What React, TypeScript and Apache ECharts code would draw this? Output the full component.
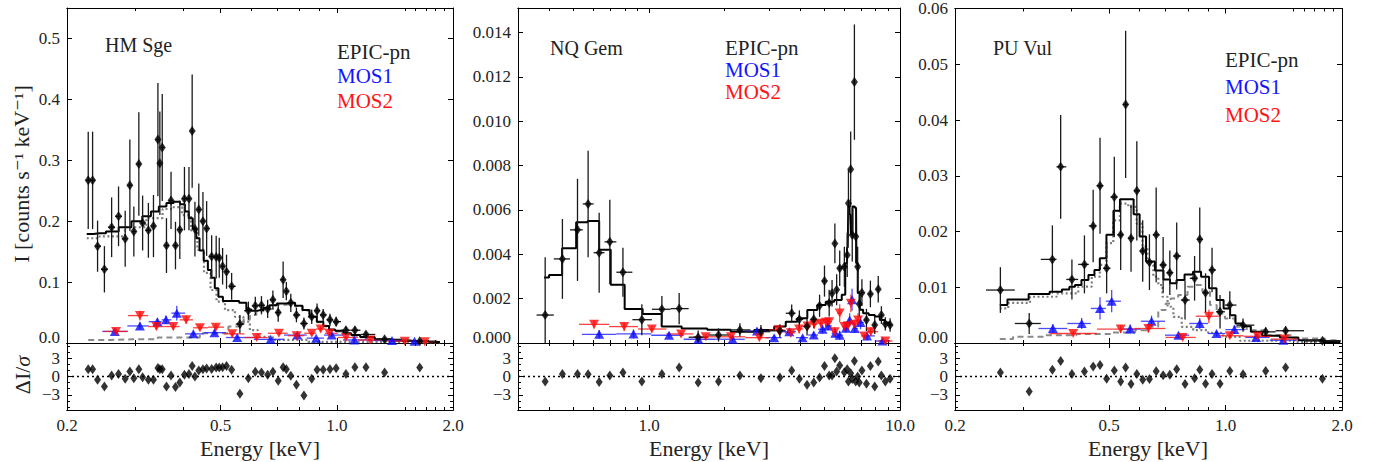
import React, { useEffect, useRef } from "react";
import * as echarts from "echarts";

const FONT = '"Liberation Serif", "DejaVu Serif", serif';

// ---------------- HM Sge ----------------
const hmPnE = [0.227,0.233,0.240,0.250,0.261,0.272,0.283,0.291,0.298,0.307,0.314,0.325,0.335,0.344,0.348,0.353,0.362,0.372,0.382,0.392,0.403,0.414,0.422,0.429,0.439,0.450,0.460,0.474,0.487,0.496,0.506,0.518,0.534,0.561,0.590,0.615,0.638,0.662,0.683,0.705,0.726,0.740,0.760,0.786,0.822,0.861,0.889,0.922,0.960,0.996,1.056,1.114,1.19,1.33,1.64];
const hmPnI = [0.267,0.267,0.159,0.121,0.190,0.208,0.171,0.259,0.183,0.294,0.197,0.185,0.192,0.334,0.295,0.321,0.160,0.234,0.160,0.186,0.237,0.237,0.348,0.187,0.219,0.200,0.188,0.142,0.141,0.140,0.126,0.117,0.093,0.031,0.053,0.061,0.062,0.056,0.071,0.050,0.104,0.085,0.066,0.046,0.032,0.043,0.053,0.046,0.038,0.035,0.021,0.021,0.014,0.006,0.003];
const hmPnErr = [0.08,0.08,0.042,0.038,0.049,0.049,0.046,0.075,0.041,0.085,0.045,0.045,0.051,0.093,0.085,0.088,0.045,0.047,0.039,0.048,0.052,0.052,0.093,0.045,0.043,0.048,0.045,0.035,0.035,0.033,0.03,0.028,0.022,0.015,0.015,0.015,0.015,0.015,0.015,0.015,0.03,0.015,0.015,0.012,0.01,0.012,0.012,0.01,0.01,0.008,0.006,0.006,0.005,0.004,0.003];
const hmRes = [1.2,1.2,-0.54,-1.63,0.16,0.43,-0.38,0.82,-0.27,1.2,-0.11,-0.54,-0.54,1.41,1.2,1.2,-1.63,0.16,-1.74,-0.98,0.27,0.43,1.74,0,0.98,1.2,1.3,1.25,1.47,1.47,1.52,1.74,1.09,-2.83,-0.27,0.76,0.65,0.27,0.76,-0.71,1.52,1.2,0.11,-1.36,-3.1,-0.38,1.09,1.09,1.2,1.36,0.43,1.52,1.52,0.65,1.47];
const hmMos1E = [0.266,0.309,0.343,0.361,0.385,0.425,0.482,0.552,0.674,0.79,0.884,0.97,1.11,1.39,1.59];
const hmMos1I = [0.019,0.028,0.035,0.038,0.049,0.015,0.017,0.009,0.006,0.013,0.008,0.013,0.005,0.004,0.003];
const hmMos1Err = [0.004,0.006,0.006,0.007,0.012,0.004,0.004,0.003,0.002,0.003,0.002,0.003,0.002,0.001,0.001];
const hmMos2E = [0.268,0.309,0.341,0.377,0.407,0.442,0.486,0.536,0.620,0.708,0.787,0.861,0.908,0.956,1.056,1.22,1.50,1.69];
const hmMos2I = [0.019,0.045,0.027,0.027,0.038,0.025,0.026,0.015,0.009,0.016,0.012,0.016,0.023,0.016,0.009,0.005,0.003,0.002];
const hmMos2Err = [0.004,0.008,0.006,0.006,0.007,0.005,0.005,0.004,0.003,0.003,0.003,0.003,0.004,0.003,0.002,0.001,0.001,0.001];
const hmModelE = [0.225,0.243,0.262,0.283,0.305,0.322,0.338,0.354,0.370,0.386,0.399,0.409,0.418,0.429,0.436,0.446,0.458,0.469,0.477,0.489,0.498,0.516,0.540,0.578,0.588,0.614,0.633,0.66,0.68,0.72,0.76,0.80,0.83,0.87,0.906,0.94,0.97,1.01,1.07,1.11,1.19,1.32,1.46,1.62,1.85];
const hmModelI = [0.179,0.180,0.183,0.190,0.200,0.208,0.216,0.224,0.230,0.232,0.228,0.216,0.205,0.188,0.172,0.152,0.135,0.120,0.107,0.090,0.076,0.069,0.069,0.066,0.055,0.053,0.054,0.058,0.062,0.065,0.066,0.061,0.054,0.043,0.035,0.028,0.022,0.020,0.016,0.013,0.010,0.006,0.004,0.003,0.0017];
const hmSoftE = [0.225,0.262,0.305,0.338,0.370,0.386,0.409,0.429,0.442,0.464,0.478,0.498,0.529,0.561,0.585,0.606,0.643,0.725,0.98,1.85];
const hmSoftI = [0.172,0.175,0.190,0.205,0.220,0.223,0.210,0.185,0.153,0.115,0.087,0.068,0.054,0.043,0.035,0.021,0.010,0.005,0.002,0.001];
const hmHardE = [0.227,0.296,0.399,0.489,0.561,0.585,0.606,0.632,0.66,0.725,0.76,0.80,0.83,0.87,0.906,0.94,0.97,1.01,1.07,1.11,1.19,1.32,1.46,1.62,1.85];
const hmHardI = [0.005,0.006,0.009,0.016,0.027,0.038,0.046,0.052,0.056,0.063,0.064,0.060,0.053,0.043,0.034,0.027,0.021,0.019,0.015,0.012,0.0095,0.0058,0.0039,0.0029,0.0016];

// ---------------- NQ Gem ----------------
const nqPnE = [0.385,0.451,0.518,0.571,0.632,0.697,0.786,0.935,1.124,1.317,1.568,1.89,2.30,2.79,3.32,3.70,3.97,4.26,4.53,4.78,5.00,5.22,5.36,5.50,5.59,5.75,6.00,6.16,6.23,6.36,6.45,6.58,6.66,6.78,6.88,7.05,7.35,7.62,7.93,8.19,8.43,8.74,9.13];
const nqPnI = [0.00126,0.00379,0.0051,0.00627,0.00407,0.00456,0.00319,0.00105,0.00152,0.00155,0.00026,0.00036,0.00059,0.00051,0.00055,0.00134,0.00107,0.00074,0.00107,0.00168,0.00279,0.0018,0.00224,0.00449,0.0024,0.00337,0.00344,0.00397,0.0063,0.00783,0.00487,0.01176,0.0048,0.00344,0.00176,0.00227,0.00104,0.00221,0.00081,0.00242,0.00126,0.00086,0.00081];
const nqPnErr = [0.0026,0.0018,0.0023,0.0024,0.0018,0.0019,0.0011,0.0007,0.0006,0.0007,0.0003,0.0003,0.0003,0.0003,0.0003,0.0004,0.0004,0.0004,0.0004,0.0005,0.0007,0.0006,0.0006,0.0009,0.0007,0.0008,0.0009,0.0010,0.0015,0.0017,0.0012,0.0026,0.0012,0.0009,0.0006,0.0006,0.0005,0.0006,0.0004,0.0006,0.0004,0.0003,0.0003];
const nqRes = [-0.82,0.43,0.43,0.38,-0.92,0.16,0.65,-0.82,0.43,1.47,-0.98,-0.82,0.16,-0.27,-0.16,0.98,-0.38,-1.36,-0.98,-0.16,1.74,0.16,0.16,2.99,0.82,1.79,0.71,1.2,-0.82,0.54,-0.43,2.55,-0.82,0,-0.98,0.98,-1.2,1.74,-1.63,2.45,0.16,-0.82,-0.38];
const nqMos1E = [0.632,0.866,1.20,1.57,2.15,2.69,3.15,3.62,4.09,4.53,4.91,5.17,5.52,5.75,6.09,6.30,6.44,6.6,6.96,7.39,8.52];
const nqMos1I = [0.00039,0.00041,0.00035,0.00017,0.00017,0.00054,0.00024,0.00051,0.00024,0.00036,0.00062,0.00077,0.00044,0.00035,0.00066,0.00104,0.00195,0.00065,0.00092,0.00032,0.00009];
const nqMos1Err = [0.0002,0.0002,0.00015,0.0001,0.0001,0.00015,0.0001,0.00015,0.0001,0.00015,0.0002,0.0002,0.0002,0.0002,0.0002,0.0003,0.0005,0.0002,0.0003,0.0002,0.0001];
const nqMos2E = [0.603,0.795,1.025,1.34,1.68,2.12,2.75,3.28,3.67,3.96,4.28,4.55,4.84,5.07,5.22,5.49,5.75,6.0,6.2,6.37,6.58,6.8,7.2,7.65,8.74];
const nqMos2I = [0.00084,0.00074,0.00063,0.00041,0.00028,0.00028,0.00024,0.00059,0.00046,0.00063,0.00077,0.00085,0.00089,0.00094,0.00096,0.00051,0.00135,0.00074,0.00078,0.00179,0.00085,0.00104,0.00032,0.00051,0.00009];
const nqMos2Err = [0.0002,0.0002,0.00015,0.00012,0.0001,0.0001,0.0001,0.0002,0.0002,0.0002,0.0002,0.0002,0.0002,0.0002,0.0002,0.0002,0.0004,0.0002,0.0002,0.0004,0.0002,0.0003,0.0001,0.0002,0.00005];
const nqModelE = [0.381,0.418,0.484,0.541,0.598,0.668,0.739,0.863,1.028,1.224,1.484,1.955,2.286,3.01,3.30,3.72,4.08,4.47,4.90,5.22,5.73,5.99,6.11,6.19,6.25,6.34,6.41,6.53,6.68,6.73,6.84,6.99,7.27,7.75,8.12,8.50,8.90,9.23];
const nqModelI = [0.00295,0.00307,0.00427,0.00544,0.0055,0.0042,0.00262,0.00153,0.00131,0.00074,0.00065,0.0006,0.00051,0.00059,0.00074,0.00096,0.00111,0.00149,0.00171,0.00186,0.00194,0.00217,0.0036,0.0043,0.00615,0.0058,0.0049,0.00615,0.0061,0.0036,0.00225,0.0015,0.00134,0.00126,0.00119,0.00104,0.00092,0.00081];

// ---------------- PU Vul ----------------
const puPnE = [0.262,0.311,0.357,0.375,0.401,0.432,0.455,0.474,0.493,0.516,0.536,0.552,0.570,0.590,0.611,0.636,0.662,0.690,0.718,0.748,0.786,0.832,0.858,0.888,0.923,0.968,1.026,1.11,1.27,1.43,1.78];
const puPnI = [0.0095,0.0035,0.0150,0.0316,0.0114,0.0141,0.0210,0.0282,0.0134,0.0262,0.0194,0.0428,0.0188,0.0273,0.0165,0.0145,0.0194,0.0140,0.0126,0.0156,0.0077,0.0116,0.0186,0.0090,0.0131,0.0056,0.0068,0.0032,0.0020,0.0022,0.0004];
const puPnErr = [0.0041,0.0019,0.0061,0.0093,0.0036,0.0052,0.0065,0.0086,0.0045,0.0072,0.0063,0.0132,0.0060,0.0089,0.0055,0.0050,0.0085,0.0050,0.0040,0.0060,0.0035,0.0040,0.0057,0.0035,0.0040,0.0030,0.0025,0.0012,0.0008,0.0008,0.0003];
const puRes = [0.65,-2.45,1.09,2.55,0.43,0.82,1.63,1.9,-0.38,0.98,-0.82,1.47,-1.25,0.43,-0.54,-0.43,0.87,0.22,0.27,1.2,-1.25,-0.27,1.09,-1.2,0.43,-1.2,0.92,0.38,0.92,1.47,-0.38];
const puMos1E = [0.358,0.425,0.474,0.508,0.567,0.644,0.756,0.858,0.948,1.054,1.20,1.41];
const puMos1I = [0.0026,0.0035,0.0062,0.0075,0.0025,0.0039,0.0014,0.0035,0.0017,0.0024,0.0010,0.0005];
const puMos1Err = [0.0008,0.0010,0.0020,0.0020,0.0008,0.0010,0.0005,0.0010,0.0005,0.0008,0.0004,0.0003];
const puMos2E = [0.404,0.536,0.632,0.775,0.906,1.026,1.21,1.42];
const puMos2I = [0.0017,0.0025,0.0026,0.0010,0.0048,0.0013,0.0012,0.0007];
const puMos2Err = [0.0004,0.0007,0.0007,0.0004,0.0012,0.0004,0.0004,0.0003];
const puModelE = [0.261,0.286,0.336,0.367,0.389,0.401,0.416,0.433,0.452,0.465,0.482,0.503,0.524,0.544,0.567,0.591,0.609,0.638,0.677,0.706,0.732,0.763,0.805,0.844,0.886,0.928,0.968,1.01,1.046,1.077,1.136,1.19,1.30,1.47,1.62,1.98];
const puModelI = [0.0068,0.0078,0.0088,0.0092,0.0096,0.0101,0.0104,0.0113,0.0122,0.0131,0.0152,0.0194,0.0237,0.0258,0.0258,0.0231,0.0191,0.0146,0.0130,0.0114,0.0107,0.0113,0.0123,0.0128,0.0119,0.0098,0.0077,0.0062,0.0050,0.0035,0.0030,0.0020,0.0013,0.0010,0.0005,0.0002];
const puSoftE = [0.261,0.289,0.338,0.396,0.438,0.465,0.482,0.503,0.523,0.544,0.578,0.601,0.619,0.638,0.664,0.677,0.698,0.719,0.748,0.794,0.858,0.948,1.026,1.156,1.98];
const puSoftI = [0.0062,0.0072,0.0083,0.0089,0.0101,0.0119,0.0140,0.0179,0.0220,0.0250,0.0244,0.0214,0.0173,0.0140,0.0119,0.0104,0.0083,0.0065,0.0047,0.0029,0.0023,0.0018,0.0011,0.0004,0.0002];
const puHardE = [0.261,0.306,0.373,0.455,0.556,0.613,0.651,0.690,0.711,0.732,0.778,0.818,0.85,0.894,0.93,0.968,1.026,1.09,1.18,1.356,1.65,1.98];
const puHardI = [0.0007,0.0011,0.0014,0.0016,0.0019,0.0023,0.0029,0.0059,0.0071,0.0080,0.0086,0.0101,0.0104,0.0092,0.0068,0.0053,0.0044,0.0029,0.0023,0.0014,0.0008,0.0005];

// ---------------- axes ticks ----------------
const ticksA_major = [0.2, 0.5, 1, 2];
const ticksA_minor = [0.3, 0.4, 0.6, 0.7, 0.8, 0.9, 1.5, 1.6, 1.7, 1.8, 1.9];
const ticksB_major = [1, 10];
const ticksB_minor = [0.3, 0.4, 0.5, 0.6, 0.7, 0.8, 0.9, 2, 3, 4, 5, 6, 7, 8, 9];
const hmYTicks = [0, 0.1, 0.2, 0.3, 0.4, 0.5];
const nqYTicks = [0, 0.002, 0.004, 0.006, 0.008, 0.010, 0.012, 0.014];
const puYTicks = [0, 0.01, 0.02, 0.03, 0.04, 0.05, 0.06];
const resMajor = [-3, 0, 3];
const resMinor = [-5, -4, -2, -1, 1, 2, 4, 5];

const panels = [
  { left: 67, width: 386, xmin: 0.2, xmax: 2, xMaj: ticksA_major, xMin: ticksA_minor, ymax: 0.55, yTicks: hmYTicks, yDec: 1,
    pnE: hmPnE, pnI: hmPnI, pnErr: hmPnErr, res: hmRes,
    m1E: hmMos1E, m1I: hmMos1I, m1Err: hmMos1Err, m2E: hmMos2E, m2I: hmMos2I, m2Err: hmMos2Err,
    models: [
      { E: hmHardE, I: hmHardI, kind: "dashed" },
      { E: hmSoftE, I: hmSoftI, kind: "dotted" },
      { E: hmModelE, I: hmModelI, kind: "solid" },
    ],
  },
  { left: 518, width: 382, xmin: 0.3, xmax: 10, xMaj: ticksB_major, xMin: ticksB_minor, ymax: 0.0151, yTicks: nqYTicks, yDec: 3,
    pnE: nqPnE, pnI: nqPnI, pnErr: nqPnErr, res: nqRes,
    m1E: nqMos1E, m1I: nqMos1I, m1Err: nqMos1Err, m2E: nqMos2E, m2I: nqMos2I, m2Err: nqMos2Err,
    models: [{ E: nqModelE, I: nqModelI, kind: "solid" }],
  },
  { left: 955, width: 387, xmin: 0.2, xmax: 2, xMaj: ticksA_major, xMin: ticksA_minor, ymax: 0.06, yTicks: puYTicks, yDec: 2,
    pnE: puPnE, pnI: puPnI, pnErr: puPnErr, res: puRes,
    m1E: puMos1E, m1I: puMos1I, m1Err: puMos1Err, m2E: puMos2E, m2I: puMos2I, m2Err: puMos2Err,
    models: [
      { E: puHardE, I: puHardI, kind: "dashed" },
      { E: puSoftE, I: puSoftI, kind: "dotted" },
      { E: puModelE, I: puModelI, kind: "solid" },
    ],
  },
];

const TOP = 8;
const MAIN_H = 335;
const RES_H = 67;

function binEdges(E: number[]) {
  return E.map((e, i) => {
    const lo = i > 0 ? Math.sqrt(E[i - 1] * e) : e / Math.sqrt(E[1] / E[0]);
    const hi = i < E.length - 1 ? Math.sqrt(e * E[i + 1]) : e * Math.sqrt(E[i] / E[i - 1]);
    return [lo, hi];
  });
}

function errData(E: number[], I: number[], err: number[]) {
  const ed = binEdges(E);
  return E.map((e, i) => [e, I[i], ed[i][0], ed[i][1], I[i] - err[i], I[i] + err[i]]);
}

function errSeries(xi: number, yi: number, data: number[][], color: string, width: number) {
  return {
    type: "custom",
    xAxisIndex: xi,
    yAxisIndex: yi,
    silent: true,
    z: 3,
    data,
    encode: { x: 0, y: 1 },
    renderItem: (params: any, api: any) => {
      const cs = params.coordSys;
      const x = api.value(0), y = api.value(1);
      const a = api.coord([api.value(2), y]);
      const b = api.coord([api.value(3), y]);
      const c = api.coord([x, api.value(4)]);
      const d = api.coord([x, api.value(5)]);
      const cx = (v: number) => Math.max(cs.x, Math.min(cs.x + cs.width, v));
      const cy = (v: number) => Math.max(cs.y, Math.min(cs.y + cs.height, v));
      return {
        type: "group",
        children: [
          { type: "line", shape: { x1: cx(a[0]), y1: a[1], x2: cx(b[0]), y2: b[1] }, style: { stroke: color, lineWidth: width } },
          { type: "line", shape: { x1: c[0], y1: cy(c[1]), x2: d[0], y2: cy(d[1]) }, style: { stroke: color, lineWidth: width } },
        ],
      };
    },
  };
}

function buildOption() {
  const grid: any[] = [];
  const xAxis: any[] = [];
  const yAxis: any[] = [];
  const series: any[] = [];

  const labelStyle = { fontFamily: FONT, fontSize: 17, lineHeight: 12, color: "#222", margin: 7, showMinLabel: true, showMaxLabel: true };
  const richShift = {
    up: { fontFamily: FONT, fontSize: 17, lineHeight: 12, color: "#222", padding: [0, 0, 12, 0] },
  };

  const addX = (g: number, p: any, position: string, ticks: number[], len: number, labels: boolean) => {
    xAxis.push({
      type: "log", logBase: 10, gridIndex: g, min: p.xmin, max: p.xmax, position,
      axisLine: { show: true, onZero: false, lineStyle: { color: "#000", width: 1 } },
      axisTick: { show: true, inside: true, length: len, customValues: ticks, lineStyle: { color: "#000", width: 1 } },
      axisLabel: labels
        ? { show: true, customValues: p.xMaj, formatter: (v: any) => Number(v).toFixed(1), ...labelStyle, margin: 9 }
        : { show: false },
      splitLine: { show: false },
    });
    return xAxis.length - 1;
  };
  const addY = (g: number, min: number, max: number, position: string, ticks: number[], len: number, labelVals: number[] | null, fmt: (v: number) => string, rich?: any) => {
    yAxis.push({
      type: "value", gridIndex: g, min, max, position,
      axisLine: { show: true, onZero: false, lineStyle: { color: "#000", width: 1 } },
      axisTick: { show: true, inside: true, length: len, customValues: ticks, lineStyle: { color: "#000", width: 1 } },
      axisLabel: labelVals
        ? { show: true, customValues: labelVals, formatter: (v: any) => fmt(Number(v)), ...labelStyle, ...(rich ? { rich } : {}) }
        : { show: false },
      splitLine: { show: false },
    });
    return yAxis.length - 1;
  };

  panels.forEach((p: any) => {
    const gm = grid.length;
    grid.push({ left: p.left, top: TOP, width: p.width, height: MAIN_H });
    const gr = grid.length;
    grid.push({ left: p.left, top: TOP + MAIN_H, width: p.width, height: RES_H });

    const xm = addX(gm, p, "bottom", p.xMaj, 5, false);
    addX(gm, p, "bottom", p.xMin, 3, false);
    addX(gm, p, "top", p.xMaj, 5, false);
    addX(gm, p, "top", p.xMin, 3, false);
    const ym = addY(gm, 0, p.ymax, "left", p.yTicks, 5, p.yTicks, (v) => (v === 0 ? `{up|${v.toFixed(p.yDec)}}` : v.toFixed(p.yDec)), richShift);
    addY(gm, 0, p.ymax, "right", p.yTicks, 5, null, (v) => String(v));

    const xr = addX(gr, p, "bottom", p.xMaj, 5, true);
    addX(gr, p, "bottom", p.xMin, 3, false);
    addX(gr, p, "top", p.xMaj, 5, false);
    addX(gr, p, "top", p.xMin, 3, false);
    const yr = addY(gr, -5.5, 5.5, "left", resMajor, 5, resMajor, (v) => (v < 0 ? "\u2212" + Math.abs(v) : String(v)));
    addY(gr, -5.5, 5.5, "left", resMinor, 3, null, (v) => String(v));
    addY(gr, -5.5, 5.5, "right", resMajor, 5, null, (v) => String(v));
    addY(gr, -5.5, 5.5, "right", resMinor, 3, null, (v) => String(v));

    p.models.forEach((m: any) => {
      const style =
        m.kind === "solid"
          ? { color: "#000", width: 2, type: "solid" }
          : m.kind === "dotted"
          ? { color: "#7d7d7d", width: 2.2, type: [2, 2.5] }
          : { color: "#8a8a8a", width: 2, type: [6, 4] };
      series.push({
        type: "line", xAxisIndex: xm, yAxisIndex: ym, step: "middle", symbol: "none", showSymbol: false,
        silent: true, z: m.kind === "solid" ? 2 : 1, lineStyle: style,
        data: m.E.map((e: number, i: number) => [e, m.I[i]]),
      });
    });

    series.push(errSeries(xm, ym, errData(p.m1E, p.m1I, p.m1Err), "rgba(30,30,255,0.8)", 1.3));
    series.push(errSeries(xm, ym, errData(p.m2E, p.m2I, p.m2Err), "rgba(255,20,20,0.8)", 1.3));
    series.push(errSeries(xm, ym, errData(p.pnE, p.pnI, p.pnErr), "#1a1a1a", 1.3));

    series.push({
      type: "scatter", xAxisIndex: xm, yAxisIndex: ym, symbol: "triangle", symbolSize: [10, 9], silent: true, z: 4,
      itemStyle: { color: "#0a0aff" }, data: p.m1E.map((e: number, i: number) => [e, p.m1I[i]]),
    });
    series.push({
      type: "scatter", xAxisIndex: xm, yAxisIndex: ym, symbol: "triangle", symbolRotate: 180, symbolSize: [10, 9], silent: true, z: 4,
      itemStyle: { color: "#ff0a0a" }, data: p.m2E.map((e: number, i: number) => [e, p.m2I[i]]),
    });
    series.push({
      type: "scatter", xAxisIndex: xm, yAxisIndex: ym, symbol: "diamond", symbolSize: [7, 10], silent: true, z: 5,
      itemStyle: { color: "#000" }, data: p.pnE.map((e: number, i: number) => [e, p.pnI[i]]),
    });

    series.push({
      type: "scatter", xAxisIndex: xr, yAxisIndex: yr, symbol: "diamond", symbolSize: [7, 10], silent: true, z: 5,
      itemStyle: { color: "#000" }, data: p.pnE.map((e: number, i: number) => [e, p.res[i]]),
      markLine: {
        silent: true, symbol: "none", label: { show: false },
        lineStyle: { type: [2, 3], color: "#000", width: 1.4 },
        data: [{ yAxis: 0 }],
      },
    });
  });

  const txt = (x: number, y: number, text: string, color = "#222", size = 21, align = "left") => ({
    type: "text", x, y, silent: true,
    style: { text, fill: color, font: `${size}px ${FONT}`, align, verticalAlign: "middle" },
  });

  const graphic: any[] = [
    txt(105, 45, "HM Sge", "#222", 20),
    txt(337, 52, "EPIC-pn"),
    txt(337, 76, "MOS1", "#1414ff"),
    txt(337, 101, "MOS2", "#ff1414"),
    txt(550, 48, "NQ Gem", "#222", 20),
    txt(725, 48, "EPIC-pn"),
    txt(725, 70, "MOS1", "#1414ff"),
    txt(725, 92, "MOS2", "#ff1414"),
    txt(993, 48, "PU Vul", "#222", 20),
    txt(1225, 60, "EPIC-pn"),
    txt(1225, 87, "MOS1", "#1414ff"),
    txt(1225, 115, "MOS2", "#ff1414"),
    txt(260, 448, "Energy [keV]", "#222", 22, "center"),
    txt(709, 448, "Energy [keV]", "#222", 22, "center"),
    txt(1148, 448, "Energy [keV]", "#222", 22, "center"),
    {
      type: "text", x: 21, y: 174, rotation: Math.PI / 2, silent: true,
      style: { text: "I [counts s\u207B\u00B9 keV\u207B\u00B9]", fill: "#222", font: `22px ${FONT}`, align: "center", verticalAlign: "middle" },
    },
    {
      type: "text", x: 22, y: 375, rotation: Math.PI / 2, silent: true,
      style: {
        text: "{a|\u0394I/}{b|\u03C3}", align: "center", verticalAlign: "middle",
        rich: {
          a: { fill: "#222", font: `22px ${FONT}` },
          b: { fill: "#222", font: `italic 22px ${FONT}` },
        },
      },
    },
  ];

  return { animation: false, backgroundColor: "#fff", grid, xAxis, yAxis, series, graphic };
}

export default function App() {
  const ref = useRef<HTMLDivElement>(null);
  useEffect(() => {
    if (!ref.current) return;
    const chart = echarts.init(ref.current, undefined, { renderer: "svg" });
    chart.setOption(buildOption() as any);
    return () => chart.dispose();
  }, []);
  return <div ref={ref} style={{ position: "absolute", left: 0, top: 0, width: 1380, height: 462 }} />;
}
